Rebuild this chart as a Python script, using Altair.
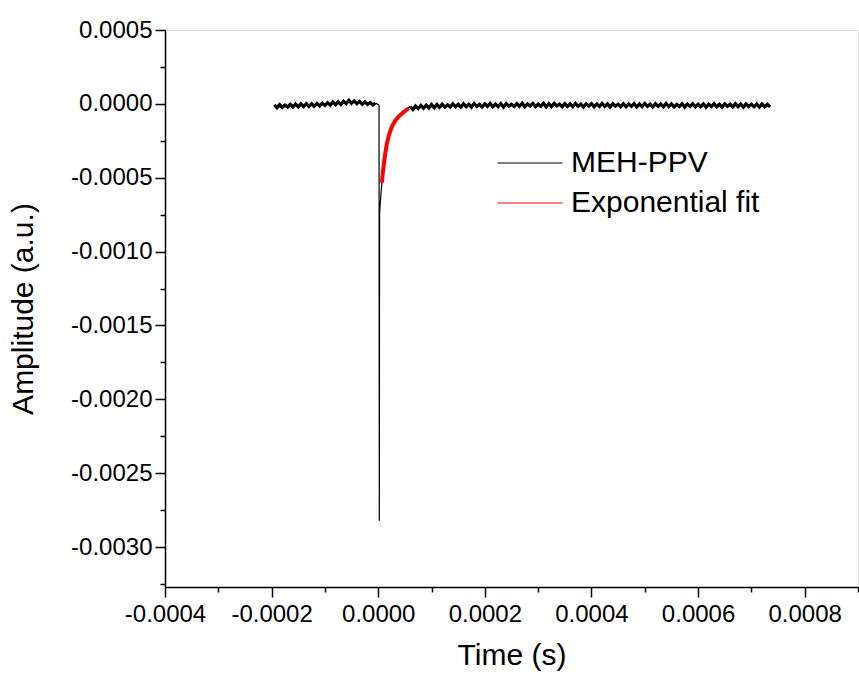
import altair as alt
import numpy as np
import pandas as pd

# ---- data (values in units of 1e-6) ----
# pre-trigger baseline, t = -195 ... -5 us, step 5 us
pre_t_us = list(range(-195, 0, 5))
pre_v = [-6, -26, -5, -24, -8, -22, -3, -21, -1, -20,
         0, -19, 2, -17, 1, -16, 3, -14, 5, -11,
         8, -9, 13, -5, 14, -3, 18, 2, 24, 4,
         20, 1, 17, -2, 14, -4, 9, -7, 6]

# spike and recovery of the measured trace
spike_t_us = [-5, -1, 1.5, 2.0, 2.6, 3.5, 4.5, 5.5, 6.9, 8.8, 10.7, 13.2, 16.3, 20.7, 25.7, 31.9, 38.1, 47.5, 56.9, 60]
spike_v = [6, -3, -8, -2822, -740, -690, -640, -590, -533, -462, -398, -338, -264, -207, -151, -117, -83, -60, -27, -18]

# post-trigger baseline, t = 60 ... 735 us, step 5 us
post_t_us = list(range(60, 736, 5))
post_v = [-18, -38, -14, -32, -10, -30, -8, -27, -5, -26,
          -4, -24, -2, -22, -6, -21, 0, -20, -3, -23,
          1, -19, -2, -22, 2, -18, -4, -21, 0, -17,
          3, -20, -1, -19, 2, -22, 1, -16, -3, -18,
          2, -17, 4, -20, 0, -15, 3, -19, -2, -16,
          4, -21, 1, -18, 3, -14, -1, -20, 2, -17,
          0, -19, 3, -16, -2, -21, 1, -15, 2, -20,
          -1, -18, 3, -17, 0, -22, 2, -16, -3, -19,
          1, -20, -1, -17, 2, -21, 0, -18, 3, -16,
          -2, -22, 1, -17, -1, -20, 2, -19, 0, -21,
          -3, -18, 1, -22, -1, -17, 0, -21, -2, -19,
          0, -23, -2, -18, 1, -20, -3, -22, 0, -17,
          -2, -21, 1, -19, -1, -23, 0, -18, -2, -20,
          -1, -22, 0, -19, -3, -21]

# exponential fit
fit_t_us = [6.9, 8.8, 10.7, 13.2, 16.3, 20.7, 25.7, 31.9, 38.1, 47.5, 56.9]
fit_v = [-533, -459, -402, -335, -267, -204, -154, -114, -86, -57, -30]

x_major = [-0.0004, -0.0002, 0.0, 0.0002, 0.0004, 0.0006, 0.0008]
x_minor = [-0.0003, -0.0001, 0.0001, 0.0003, 0.0005, 0.0007, 0.0009]
y_major = [0.0005, 0.0, -0.0005, -0.001, -0.0015, -0.002, -0.0025, -0.003]
y_minor = [0.00025, -0.00025, -0.00075, -0.00125, -0.00175, -0.00225, -0.00275, -0.00325]

S = 1e-6
df_base = pd.concat([
    pd.DataFrame({"t": np.array(pre_t_us) * S, "v": np.array(pre_v) * S, "seg": "pre"}),
    pd.DataFrame({"t": np.array(post_t_us) * S, "v": np.array(post_v) * S, "seg": "post"}),
])
df_base["series"] = "MEH-PPV"
df_spike = pd.DataFrame({"t": np.array(spike_t_us) * S, "v": np.array(spike_v) * S,
                         "series": "MEH-PPV"})
df_fit = pd.DataFrame({"t": np.array(fit_t_us) * S, "v": np.array(fit_v) * S,
                       "series": "Exponential fit"})

FONT = "Liberation Sans"
X_DOM = [-0.0004, 0.0009]
Y_DOM = [-0.00327, 0.0005]
LBL = "replace(format(datum.value, '.4f'), '\u2212', '-')"

color = alt.Color(
    "series:N",
    scale=alt.Scale(domain=["MEH-PPV", "Exponential fit"], range=["#000000", "#ff0000"]),
    legend=alt.Legend(
        title=None, orient="none", legendX=348, legendY=116, padding=0,
        symbolType="M-2,0H2", symbolSize=1056, symbolStrokeWidth=1,
        labelFont=FONT, labelFontSize=30, labelColor="black", labelOffset=24,
        labelLimit=400, rowPadding=8,
    ),
)

base = alt.Chart(df_base).mark_line(strokeWidth=3.2, clip=True).encode(
    x=alt.X("t:Q", scale=alt.Scale(domain=X_DOM, nice=False, zero=False),
            axis=alt.Axis(title="Time (s)", values=x_major, labelExpr=LBL, tickSize=10,
                          labelPadding=5, titlePadding=14, labelFlush=False,
                          labelOverlap=False)),
    y=alt.Y("v:Q", scale=alt.Scale(domain=Y_DOM, nice=False, zero=False),
            axis=alt.Axis(title="Amplitude (a.u.)", values=y_major, labelExpr=LBL, tickSize=10,
                          labelPadding=3, titlePadding=32, labelFlush=False,
                          labelOverlap=False)),
    color=color, detail="seg:N", order="t:Q",
)

spike = alt.Chart(df_spike).mark_line(strokeWidth=1.2, clip=True).encode(
    x=alt.X("t:Q", axis=None), y=alt.Y("v:Q", axis=None), color=color, order="t:Q")

fit = alt.Chart(df_fit).mark_line(strokeWidth=4, clip=True).encode(
    x=alt.X("t:Q", axis=alt.Axis(orient="bottom", values=x_minor, labels=False, domain=False,
                                 tickSize=5, title=None)),
    y=alt.Y("v:Q", axis=alt.Axis(orient="left", values=y_minor, labels=False, domain=False,
                                 tickSize=5, title=None)),
    color=color, order="t:Q",
)

chart = (
    alt.layer(base, spike, fit)
    .resolve_axis(x="independent", y="independent")
    .properties(width=693, height=557,
                autosize=alt.AutoSizeParams(type="none"),
                padding={"left": 165, "top": 30, "right": 1, "bottom": 88})
    .configure_view(stroke=None)
    .configure(background="white")
    .configure_axis(
        grid=False, domainColor="black", domainWidth=1.5, tickColor="black", tickWidth=1.5,
        labelFont=FONT, labelFontSize=24, labelColor="black",
        titleFont=FONT, titleFontSize=30, titleFontWeight="normal", titleColor="black",
    )
)

chart.save("out.html", embed_options={"renderer": "svg", "actions": False})
